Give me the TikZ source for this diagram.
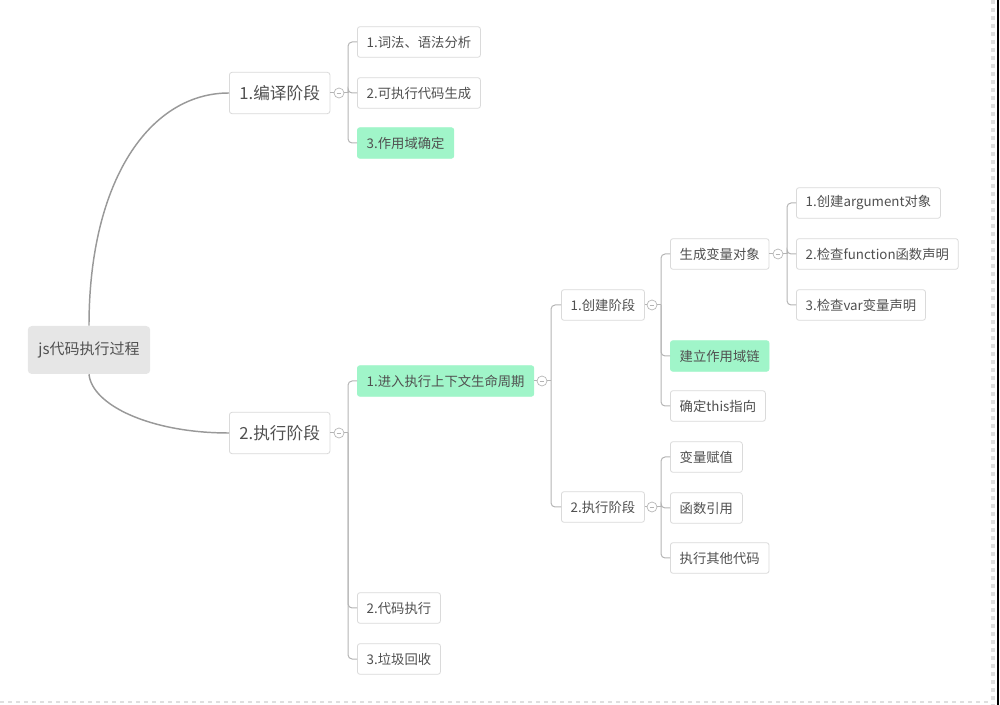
\documentclass[tikz,border=0pt]{standalone}
\usepackage{fontspec}
\setmainfont{Noto Sans CJK SC}
\usetikzlibrary{positioning}
\definecolor{txt}{HTML}{505050}
\definecolor{edge}{HTML}{DADADA}
\definecolor{mint}{HTML}{A0F5C9}
\definecolor{rootgray}{HTML}{E6E6E6}
\definecolor{linegray}{HTML}{B4B4B4}

\begin{document}
\begin{tikzpicture}[
    x=0.75pt, y=-0.75pt,
    every node/.style={text=txt},
    topic/.style={draw=edge, fill=white, rounded corners=2pt, line width=0.6pt, inner xsep=7pt, minimum height=23pt, font=\fontsize{10}{12}\selectfont, anchor=west},
    hot/.style={topic, fill=mint, draw=mint},
    major/.style={topic, minimum height=31pt, inner xsep=7.5pt, font=\fontsize{12.5}{15}\selectfont},
    rootbox/.style={fill=rootgray, rounded corners=3pt, minimum height=36pt, inner xsep=8pt, font=\fontsize{11.25}{13}\selectfont},
    fold/.style={circle, draw=linegray, fill=white, line width=0.5pt, minimum size=7.5pt, inner sep=0pt,
      path picture={\draw[linegray,line width=0.4pt] ([xshift=-1.8pt]path picture bounding box.center) -- ([xshift=1.8pt]path picture bounding box.center);}},
    branch/.style={draw=linegray, line width=0.75pt, rounded corners=3pt},
    trunk/.style={draw=linegray!85!black, line width=1.1pt},
  ]
  \useasboundingbox (0,0) rectangle (1000,705);

  % screenshot frame
  \draw[gray!25, dashed, line width=1.2pt] (0,702) -- (990,702);
  \draw[gray!25, dashed, line width=2.5pt] (993,0) -- (993,705);
  \draw[black, line width=1.5pt] (998,0) -- (998,705);

  % root and main stages
  \node[rootbox] (root) at (89,350) {js代码执行过程};
  \node[major] (compile) at (229,93) {1.编译阶段};
  \node[major] (run) at (229,433) {2.执行阶段};
  \draw[trunk] (root.north) .. controls (89,180) and (150,93) .. (compile.west);
  \draw[trunk] (root.south) .. controls (92,405) and (150,433) .. (run.west);

  \node[fold] (fc) at (339,93) {};
  \node[fold] (fr) at (339,433) {};
  \node[topic] (lex) at (357,42) {1.词法、语法分析};
  \node[topic] (gen) at (357,93) {2.可执行代码生成};
  \node[hot] (scope) at (357,143) {3.作用域确定};
  \node[hot] (ctx) at (357,381) {1.进入执行上下文生命周期};
  \node[topic] (exec) at (357,608) {2.代码执行};
  \node[topic] (gc) at (357,659) {3.垃圾回收};

  \node[fold] (fx) at (542,381) {};
  \node[topic] (create) at (561,305) {1.创建阶段};
  \node[topic] (perform) at (561,507) {2.执行阶段};

  \node[fold] (fcr) at (652,305) {};
  \node[fold] (fp) at (652,507) {};
  \node[topic] (vo) at (670,254) {生成变量对象};
  \node[hot] (chain) at (670,356) {建立作用域链};
  \node[topic] (this) at (670,406) {确定this指向};
  \node[topic] (assign) at (670,457) {变量赋值};
  \node[topic] (ref) at (670,508) {函数引用};
  \node[topic] (other) at (670,558) {执行其他代码};

  \node[fold] (fvo) at (778,254) {};
  \node[topic] (args) at (796,203) {1.创建argument对象};
  \node[topic] (func) at (796,254) {2.检查function函数声明};
  \node[topic] (var) at (796,305) {3.检查var变量声明};

  % parent -> fold
  \foreach \p/\f in {compile/fc, run/fr, ctx/fx, create/fcr, perform/fp, vo/fvo}
    \draw[branch] (\p) -- (\f);

  % fold -> children
  \foreach \f/\c in {fc/lex, fc/gen, fc/scope, fr/ctx, fr/exec, fr/gc,
                     fx/create, fx/perform, fcr/vo, fcr/chain, fcr/this,
                     fp/assign, fp/ref, fp/other, fvo/args, fvo/func, fvo/var} {
    \draw[branch] (\f.east) -- ([xshift=2.8pt]\f.east);
    \draw[branch] ([xshift=2.8pt]\f.east) |- (\c.west);
  }
\end{tikzpicture}
\end{document}
